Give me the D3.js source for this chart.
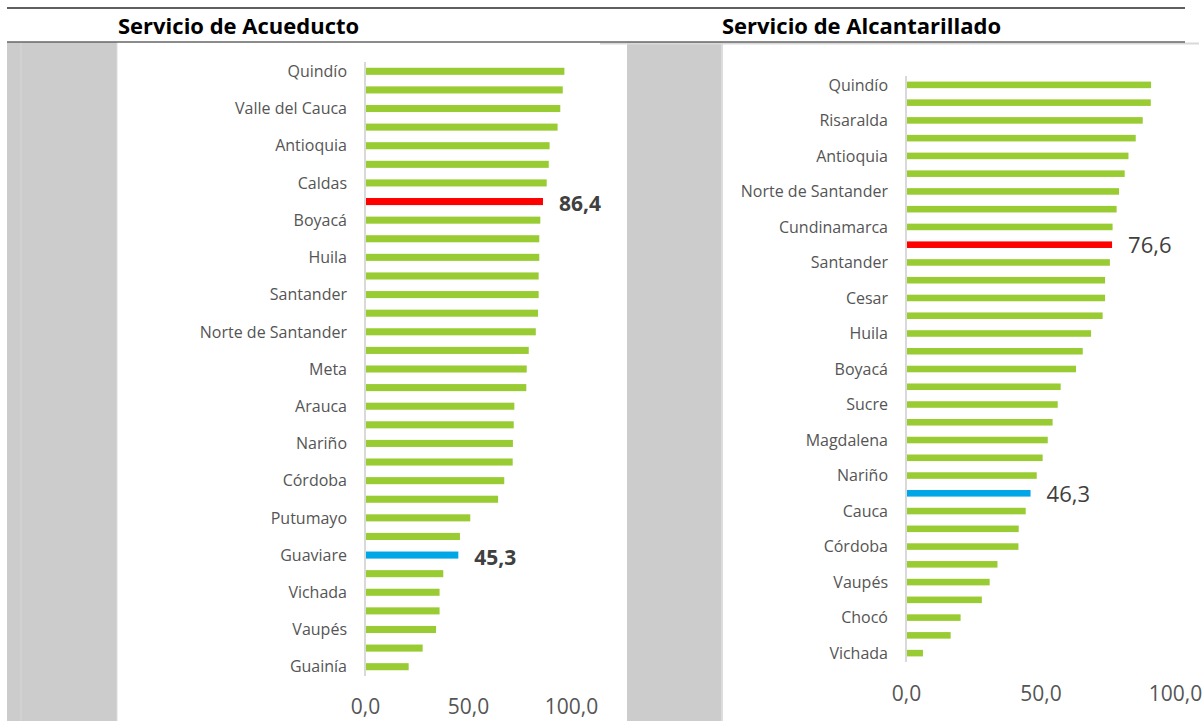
<!DOCTYPE html>
<html>
<head>
<meta charset="utf-8">
<script src="https://cdn.jsdelivr.net/npm/d3@7/dist/d3.min.js"></script>
<style>
  html, body { margin: 0; padding: 0; background: #ffffff; }
  svg { display: block; }
  text { font-family: "Open Sans", "Noto Sans", sans-serif; }
</style>
</head>
<body>
<svg id="chart" width="1203" height="721"></svg>
<script>
// ---------------- DATA ----------------
const panelTitles = ["Servicio de Acueducto", "Servicio de Alcantarillado"];

const acueductoCategories = [
  "Quindío", "Risaralda", "Valle del Cauca", "Atlántico", "Antioquia", "Cundinamarca",
  "Caldas", "Total Nacional", "Boyacá", "Tolima", "Huila", "Casanare", "Santander",
  "Cesar", "Norte de Santander", "Sucre", "Meta", "Caquetá", "Arauca", "Magdalena",
  "Nariño", "Bolívar", "Córdoba", "Cauca", "Putumayo", "San Andrés", "Guaviare",
  "Amazonas", "Vichada", "La Guajira", "Vaupés", "Chocó", "Guainía"
];
const acueductoValues = [
  96.8, 96.0, 94.8, 93.5, 89.6, 89.2,
  88.2, 86.4, 85.1, 84.6, 84.6, 84.3, 84.3,
  84.0, 82.9, 79.5, 78.5, 78.3, 72.5, 72.2,
  71.8, 71.7, 67.6, 64.6, 51.1, 46.1, 45.3,
  38.0, 36.2, 36.2, 34.5, 28.0, 21.2
];

const alcantarilladoCategories = [
  "Quindío", "Valle del Cauca", "Risaralda", "Caldas", "Antioquia", "Atlántico",
  "Norte de Santander", "Meta", "Cundinamarca", "Total Nacional", "Santander", "Tolima",
  "Cesar", "Casanare", "Huila", "Caquetá", "Boyacá", "Arauca", "Sucre", "Bolívar",
  "Magdalena", "La Guajira", "Nariño", "Guaviare", "Cauca", "Putumayo", "Córdoba",
  "Amazonas", "Vaupés", "San Andrés", "Chocó", "Guainía", "Vichada"
];
const alcantarilladoValues = [
  91.1, 91.0, 88.0, 85.4, 82.7, 81.3,
  79.2, 78.3, 76.8, 76.6, 75.8, 74.0,
  74.0, 73.1, 68.8, 65.7, 63.2, 57.5, 56.4, 54.5,
  52.7, 50.8, 48.6, 46.3, 44.5, 41.9, 41.8,
  34.0, 31.1, 28.2, 20.3, 16.6, 6.3
];

const nationalCategory = "Total Nacional";
const lowestHighlight = "Guaviare";
const tickValues = [0, 50, 100];

// ---------------- STYLE ----------------
const GREEN = "#99CC33", RED = "#FF0000", BLUE = "#00A6E6";
const TEXT = "#555555", VALUE_TEXT = "#404040";

const svg = d3.select("#chart");

// Background frame (gray side blocks and header rules)
svg.append("rect").attr("x", 7).attr("y", 42).attr("width", 110).attr("height", 679).attr("fill", "#cccccc");
svg.append("line").attr("x1", 21).attr("x2", 21).attr("y1", 42).attr("y2", 721).attr("stroke", "#d6d6d6").attr("stroke-width", 1);
svg.append("line").attr("x1", 117).attr("x2", 117).attr("y1", 42).attr("y2", 721).attr("stroke", "#dddddd").attr("stroke-width", 1);
svg.append("rect").attr("x", 627).attr("y", 42).attr("width", 94).attr("height", 679).attr("fill", "#cccccc");
svg.append("line").attr("x1", 722).attr("x2", 722).attr("y1", 42).attr("y2", 721).attr("stroke", "#dddddd").attr("stroke-width", 2);

svg.append("line").attr("x1", 600).attr("x2", 1199).attr("y1", 43.5).attr("y2", 43.5).attr("stroke", "#d9d9d9").attr("stroke-width", 2);
svg.append("line").attr("x1", 7).attr("x2", 1185).attr("y1", 8).attr("y2", 8).attr("stroke", "#5f5f5f").attr("stroke-width", 2);
svg.append("line").attr("x1", 7).attr("x2", 1185).attr("y1", 42).attr("y2", 42).attr("stroke", "#666666").attr("stroke-width", 1.5);

// Titles
svg.append("text").attr("x", 118).attr("y", 34).attr("font-size", 22).attr("font-weight", 700)
  .attr("fill", "#000").text(panelTitles[0]);
svg.append("text").attr("x", 722).attr("y", 34).attr("font-size", 22).attr("font-weight", 700)
  .attr("fill", "#000").text(panelTitles[1]);

function colorFor(cat) {
  if (cat === nationalCategory) return RED;
  if (cat === lowestHighlight) return BLUE;
  return GREEN;
}

function drawPanel(cfg) {
  const { categories, values, x0, x1, y0, y1, pad, tickY, labelWeight, labelSize, labelDy } = cfg;
  const data = categories.map((c, i) => ({ c, v: values[i], i }));
  const x = d3.scaleLinear().domain([0, 100]).range([x0, x1]);
  const y = d3.scaleBand().domain(categories).range([y0, y1]).paddingInner(pad).paddingOuter(pad / 2);

  const g = svg.append("g");

  g.selectAll("rect.bar").data(data).join("rect")
    .attr("class", "bar")
    .attr("x", x(0) + 1)
    .attr("y", d => y(d.c))
    .attr("width", d => x(d.v) - x(0) - 1)
    .attr("height", y.bandwidth())
    .attr("fill", d => colorFor(d.c));

  // vertical axis line
  g.append("line").attr("x1", x(0)).attr("x2", x(0)).attr("y1", y0).attr("y2", y1)
    .attr("stroke", "#d9d9d9").attr("stroke-width", 2);

  // category labels (every other one shown, as in the original)
  g.selectAll("text.cat").data(data.filter(d => d.i % 2 === 0)).join("text")
    .attr("class", "cat")
    .attr("x", x(0) - 18)
    .attr("y", d => y(d.c) + y.bandwidth() / 2)
    .attr("dy", "0.36em")
    .attr("text-anchor", "end")
    .attr("font-size", 16)
    .attr("fill", TEXT)
    .text(d => d.c);

  // value labels for highlighted bars
  g.selectAll("text.val").data(data.filter(d => d.c === nationalCategory || d.c === lowestHighlight)).join("text")
    .attr("class", "val")
    .attr("x", d => x(d.v) + 16)
    .attr("y", d => y(d.c) + y.bandwidth() / 2 + labelDy)
    .attr("font-size", labelSize)
    .attr("font-weight", labelWeight)
    .attr("fill", VALUE_TEXT)
    .text(d => d3.format(".1f")(d.v).replace(".", ","));

  // x axis tick labels
  const axis = d3.axisBottom(x).tickValues(tickValues).tickSize(0)
    .tickFormat(d => d3.format(".1f")(d).replace(".", ","));
  const ag = g.append("g").attr("transform", `translate(0,${tickY})`).call(axis);
  ag.select(".domain").remove();
  ag.selectAll("text").attr("font-size", 21).attr("fill", TEXT)
    .attr("font-family", "'Open Sans', sans-serif").attr("dy", 0).attr("y", 0);
}

drawPanel({
  categories: acueductoCategories, values: acueductoValues,
  x0: 365, x1: 571, y0: 62, y1: 676, pad: 0.62,
  tickY: 714, labelWeight: 700, labelSize: 21, labelDy: 9.5
});

drawPanel({
  categories: alcantarilladoCategories, values: alcantarilladoValues,
  x0: 906, x1: 1175, y0: 76, y1: 662, pad: 0.63,
  tickY: 701, labelWeight: 400, labelSize: 22, labelDy: 8.5
});
</script>
</body>
</html>
